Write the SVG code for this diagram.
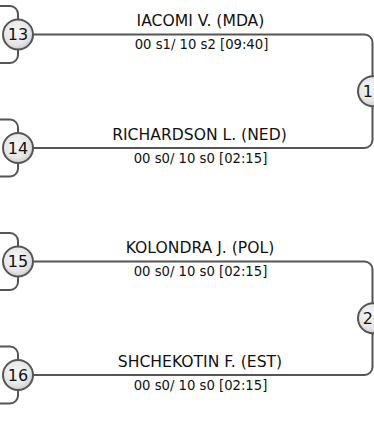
<svg xmlns="http://www.w3.org/2000/svg" width="374" height="427" viewBox="0 0 374 427">
<style>
.c{fill:none;stroke:#555;stroke-width:2}
.n{fill:url(#g);stroke:#555;stroke-width:2}
.num{font-family:"DejaVu Sans",sans-serif;font-size:16px;fill:#111;text-anchor:middle}
.nm{font-family:"DejaVu Sans",sans-serif;font-size:15.6px;fill:#111;text-anchor:middle}
.sc{font-family:"DejaVu Sans",sans-serif;font-size:13.2px;fill:#111;text-anchor:middle}
</style>
<defs>
<radialGradient id="g" cx="0.45" cy="0.4" r="0.6">
<stop offset="0" stop-color="#f7f7f7"/>
<stop offset="0.7" stop-color="#e6e6e6"/>
<stop offset="1" stop-color="#cfcfcf"/>
</radialGradient>
</defs>
<rect width="374" height="427" fill="#fff"/>
<g id="connectors">
<path class="c" d="M0,6 H10 A8,8 0 0 1 18,14 V20 M18,49 V55 A8,8 0 0 1 10,63 H0"/>
<path class="c" d="M0,119.5 H10 A8,8 0 0 1 18,127.5 V133.5 M18,162.5 V168.5 A8,8 0 0 1 10,176.5 H0"/>
<path class="c" d="M0,233 H10 A8,8 0 0 1 18,241 V247 M18,276 V282 A8,8 0 0 1 10,290 H0"/>
<path class="c" d="M0,346.5 H10 A8,8 0 0 1 18,354.5 V360.5 M18,389.5 V395.5 A8,8 0 0 1 10,403.5 H0"/>
<path class="c" d="M33,34.5 H364.5 A8,8 0 0 1 372.5,42.5 V140 A8,8 0 0 1 364.5,148 H33"/>
<path class="c" d="M33,261.5 H364.5 A8,8 0 0 1 372.5,269.5 V367 A8,8 0 0 1 364.5,375 H33"/>
</g>
<g id="node13">
<circle class="n" cx="18" cy="34.5" r="15"/>
<text class="num" x="18" y="40.3">13</text>
<text class="nm" x="200.5" y="25.5">IACOMI V. (MDA)</text>
<text class="sc" x="201.5" y="49">00 s1/ 10 s2 [09:40]</text>
</g>
<g id="node14">
<circle class="n" cx="18" cy="148" r="15"/>
<text class="num" x="18" y="153.8">14</text>
<text class="nm" x="199.5" y="139.5">RICHARDSON L. (NED)</text>
<text class="sc" x="200.5" y="162.5">00 s0/ 10 s0 [02:15]</text>
</g>
<g id="node15">
<circle class="n" cx="18" cy="261.5" r="15"/>
<text class="num" x="18" y="267.3">15</text>
<text class="nm" x="200" y="253">KOLONDRA J. (POL)</text>
<text class="sc" x="200.5" y="276">00 s0/ 10 s0 [02:15]</text>
</g>
<g id="node16">
<circle class="n" cx="18" cy="375" r="15"/>
<text class="num" x="18" y="380.8">16</text>
<text class="nm" x="200" y="366.5">SHCHEKOTIN F. (EST)</text>
<text class="sc" x="200.5" y="389.5">00 s0/ 10 s0 [02:15]</text>
</g>
<g id="node19">
<circle class="n" cx="373" cy="91.25" r="15"/>
<text class="num" x="373" y="97">19</text>
</g>
<g id="node20">
<circle class="n" cx="373" cy="318.25" r="15"/>
<text class="num" x="373" y="324">20</text>
</g>
</svg>
